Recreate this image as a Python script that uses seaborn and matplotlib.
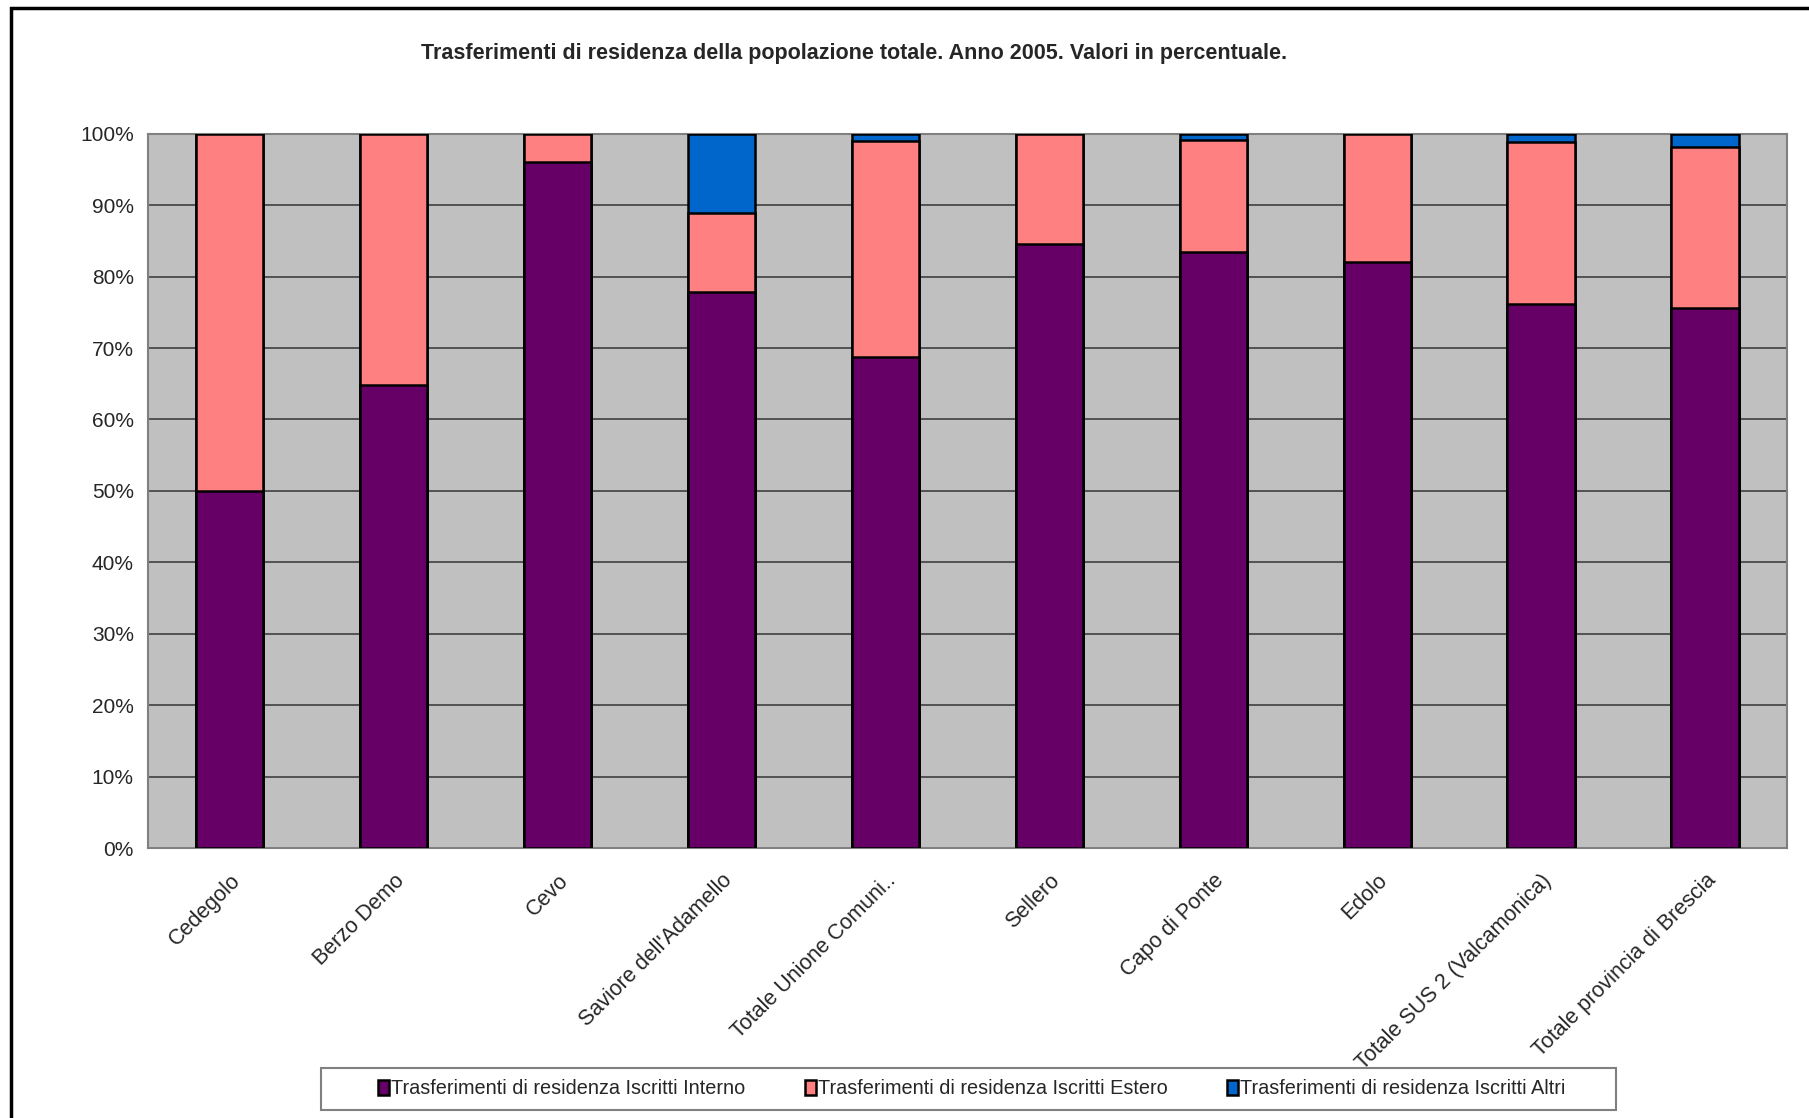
import matplotlib
matplotlib.use("Agg")
import matplotlib.pyplot as plt
import seaborn as sns
import pandas as pd
import numpy as np
from matplotlib.patches import Rectangle
from matplotlib.ticker import PercentFormatter

categories = ["Cedegolo", "Berzo Demo", "Cevo", "Saviore dell'Adamello",
              "Totale Unione Comuni..", "Sellero", "Capo di Ponte", "Edolo",
              "Totale SUS 2 (Valcamonica)", "Totale provincia di Brescia"]
interno = [50.0, 64.8, 96.1, 77.9, 68.7, 84.6, 83.4, 82.1, 76.1, 75.6]
estero = [50.0, 35.2, 3.9, 11.0, 30.3, 15.4, 15.8, 17.9, 22.8, 22.5]
altri = [0.0, 0.0, 0.0, 11.1, 1.0, 0.0, 0.8, 0.0, 1.1, 1.9]
series_names = ["Trasferimenti di residenza Iscritti Interno",
                "Trasferimenti di residenza Iscritti Estero",
                "Trasferimenti di residenza Iscritti Altri"]
colors = ["#660066", "#FF8080", "#0066CC"]
title = "Trasferimenti di residenza della popolazione totale. Anno 2005. Valori in percentuale."

sns.set_style("white")
plt.rcParams['font.family'] = ['Liberation Sans', 'DejaVu Sans']

df = pd.DataFrame({"cat": categories, "interno": interno, "estero": estero, "altri": altri})
df["c1"] = df["interno"]
df["c2"] = df["interno"] + df["estero"]
df["c3"] = df["c2"] + df["altri"]

W, H = 1809, 1118
fig = plt.figure(figsize=(W/100, H/100), dpi=100)
ax = fig.add_axes([147.7/W, 1 - 848/H, (1787-147.7)/W, (848-133.8)/H])
ax.set_facecolor("#C0C0C0")

for col, c, name in [("c3", colors[2], series_names[2]), ("c2", colors[1], series_names[1]), ("c1", colors[0], series_names[0])]:
    sns.barplot(data=df, x="cat", y=col, color=c, width=0.41, edgecolor="black",
                linewidth=1.8, saturation=1, ax=ax, label=name, zorder=3)
if ax.get_legend() is not None:
    ax.get_legend().remove()

ax.set_ylim(0, 100)
ax.set_xlim(-0.5, len(categories) - 0.5)
ax.set_yticks(np.arange(0, 101, 10))
ax.yaxis.set_major_formatter(PercentFormatter(decimals=0))
ax.grid(axis="y", color="#404040", linewidth=1.2, zorder=0)
ax.set_axisbelow(True)
ax.set_xlabel("")
ax.set_ylabel("")
for s in ["left", "bottom", "right", "top"]:
    ax.spines[s].set_color("#808080")
    ax.spines[s].set_linewidth(1.5)
ax.tick_params(axis="y", length=6, width=1.2, color="#808080", labelsize=15, pad=4)
ax.set_xticks(range(len(categories)))
ax.set_xticklabels(categories, rotation=45, ha="right", va="top", rotation_mode="anchor", fontsize=15.5)
ax.tick_params(axis="x", which="major", length=0, pad=16)
ax.set_xticks(np.arange(-0.5, len(categories), 1), minor=True)
ax.tick_params(axis="x", which="minor", length=6, width=1.2, color="#808080")

fig.text(740/1568, 1 - 54/H, title, ha="center", va="center", fontsize=15.5, fontweight="bold")

# legend box
fig.patches.append(Rectangle((321/W, 1 - 1110/H), (1616-321)/W, (1110-1068)/H,
                             transform=fig.transFigure, facecolor="white",
                             edgecolor="#808080", linewidth=1.5, zorder=1))
handles, labels = ax.get_legend_handles_labels()
order = [labels.index(n) for n in series_names]
leg = fig.legend([handles[i] for i in order], [labels[i] for i in order],
                 loc="center", bbox_to_anchor=(972/W, 1 - 1089/H), ncol=3,
                 fontsize=14.3, frameon=False,
                 handlelength=0.55, handleheight=0.8, handletextpad=0.1, columnspacing=3.0,
                 borderpad=0.0, borderaxespad=0)
leg.set_zorder(5)

fig.patches.append(Rectangle((11/W, -0.1), 1.2, 1 - 8/H + 0.1, transform=fig.transFigure,
                             fill=False, edgecolor="black", linewidth=2.5))

fig.savefig("out.png", dpi=100)
